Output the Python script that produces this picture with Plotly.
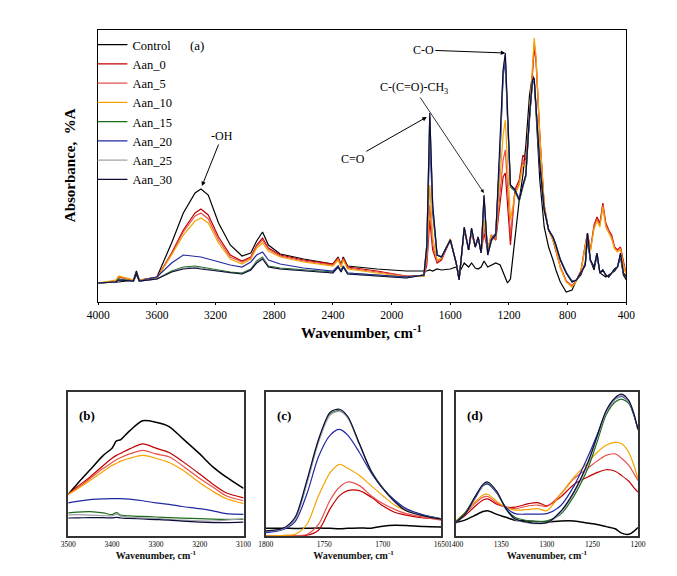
import plotly.graph_objects as go

SERIES = ["Control", "Aan_0", "Aan_5", "Aan_10", "Aan_15", "Aan_20", "Aan_25", "Aan_30"]
COLORS = ["#000000", "#c00000", "#e8504a", "#f5a300", "#1e6b1e", "#2028a0", "#a0a0a8", "#0c0c3a"]

# ---------------- main panel (a): wavenumber grid, three segments ----------------
WN_1 = [4000, 3880, 3860, 3760, 3740, 3720, 3600, 3500, 3420, 3340, 3300, 3250, 3180, 3100,
        3020, 2960, 2920, 2880, 2840, 2760, 2600, 2400, 2365, 2345, 2330, 2300, 2100, 1900]
WN_2 = [1780, 1760, 1740, 1720, 1690, 1660, 1600, 1560, 1540, 1505, 1475, 1455, 1430, 1410,
        1390, 1370, 1345, 1320, 1290, 1260, 1240, 1225, 1210, 1190, 1160, 1130, 1105, 1085,
        1060, 1040, 1028, 1015, 990, 960, 930, 900, 880]
WN_3 = [850, 810, 770, 740, 710, 680, 665, 645, 620, 600, 580, 560, 540, 520, 500, 480, 460,
        440, 420, 400]

A1 = {
    "Control": [2, 3, 3, 5, 14, 5, 8, 42, 72, 92, 96, 90, 62, 40, 29, 32, 44, 53, 40, 31, 26, 21, 28, 20, 28, 19, 16, 14],
    "Aan_0":   [2, 4, 8, 5, 10, 5, 7, 32, 55, 72, 76, 70, 48, 30, 24, 28, 40, 47, 37, 30, 25, 21, 27, 20, 27, 18, 14, 9],
    "Aan_5":   [2, 4, 8, 5, 10, 5, 7, 31, 53, 69, 72, 66, 45, 28, 23, 27, 39, 45, 36, 29, 24, 20, 26, 19, 26, 17, 13, 9],
    "Aan_10":  [2, 5, 9, 5, 10, 5, 7, 30, 50, 64, 67, 62, 42, 26, 21, 26, 37, 42, 34, 28, 23, 19, 25, 18, 25, 16, 12, 8],
    "Aan_15":  [2, 3, 6, 4, 11, 4, 6, 14, 18, 19, 18, 17, 15, 13, 12, 16, 24, 28, 19, 17, 15, 13, 19, 14, 19, 12, 10, 8],
    "Aan_20":  [2, 3, 5, 4, 11, 4, 8, 22, 30, 29, 28, 26, 23, 20, 18, 23, 30, 33, 25, 21, 17, 14, 19, 14, 19, 12, 10, 8],
    "Aan_25":  [2, 3, 5, 4, 12, 4, 6, 13, 17, 18, 17, 16, 14, 12, 11, 15, 23, 27, 18, 16, 14, 12, 18, 13, 18, 11, 9, 7],
    "Aan_30":  [2, 3, 5, 4, 12, 4, 6, 13, 16, 17, 16, 15, 14, 12, 11, 15, 22, 26, 18, 16, 14, 12, 18, 13, 18, 11, 9, 7],
}
A2 = {
    "Control": [14, 14, 15, 14, 16, 15, 16, 18, 12, 22, 18, 22, 17, 16, 18, 24, 18, 20, 22, 20, 12, 8, 2, 6, 45, 85, 110, 140, 190, 210, 205, 170, 105, 58, 38, 25, 15],
    "Aan_0":   [9, 20, 65, 35, 22, 25, 45, 22, 6, 55, 35, 52, 38, 48, 32, 52, 35, 50, 45, 80, 108, 112, 85, 40, 95, 105, 130, 125, 165, 215, 238, 222, 150, 80, 55, 45, 35],
    "Aan_5":   [9, 24, 80, 40, 24, 26, 46, 22, 6, 56, 35, 53, 38, 48, 32, 58, 35, 50, 45, 90, 125, 135, 100, 50, 92, 102, 125, 122, 168, 218, 242, 225, 150, 80, 55, 45, 35],
    "Aan_10":  [9, 30, 100, 48, 25, 27, 46, 22, 6, 57, 36, 54, 39, 48, 33, 65, 35, 50, 48, 105, 150, 165, 125, 65, 90, 100, 120, 118, 170, 222, 247, 228, 150, 80, 55, 45, 36],
    "Aan_15":  [10, 40, 168, 78, 30, 28, 45, 22, 5, 57, 35, 56, 38, 47, 32, 88, 30, 44, 50, 138, 212, 228, 168, 98, 94, 84, 98, 108, 168, 203, 205, 178, 120, 75, 55, 48, 40],
    "Aan_20":  [10, 35, 150, 72, 30, 28, 45, 22, 5, 57, 35, 56, 38, 47, 32, 85, 32, 46, 52, 135, 208, 225, 168, 100, 96, 86, 100, 110, 168, 202, 204, 178, 122, 76, 56, 48, 40],
    "Aan_25":  [10, 40, 170, 79, 30, 28, 45, 22, 5, 58, 35, 57, 38, 48, 32, 89, 30, 45, 50, 139, 214, 230, 169, 99, 95, 85, 99, 109, 169, 204, 206, 179, 120, 75, 55, 48, 40],
    "Aan_30":  [10, 40, 172, 80, 30, 28, 45, 22, 5, 58, 35, 57, 38, 48, 32, 90, 30, 45, 50, 140, 215, 232, 170, 100, 95, 85, 100, 110, 170, 205, 207, 180, 120, 75, 55, 48, 40],
}
A3 = {
    "Control": [3, -7, -5, 5, 10, 22, 45, 25, 15, 30, 12, 10, 8, 10, 12, 14, 18, 28, 10, 5],
    "Aan_0":   [18, 4, -1, 5, 14, 40, 52, 35, 60, 68, 62, 82, 62, 55, 50, 38, 35, 38, 22, 10],
    "Aan_5":   [18, 4, -1, 5, 14, 40, 51, 35, 58, 66, 60, 80, 60, 54, 48, 37, 34, 37, 21, 10],
    "Aan_10":  [17, 3, -2, 4, 13, 38, 50, 34, 56, 64, 58, 78, 58, 52, 46, 36, 33, 36, 20, 9],
    "Aan_15":  [25, 12, 3, 5, 12, 20, 50, 25, 18, 32, 12, 15, 10, 8, 12, 16, 18, 30, 12, 8],
    "Aan_20":  [26, 13, 4, 5, 12, 20, 48, 24, 18, 30, 12, 15, 10, 8, 12, 16, 18, 30, 12, 8],
    "Aan_25":  [25, 12, 3, 5, 12, 20, 51, 25, 18, 32, 12, 15, 10, 8, 12, 16, 18, 31, 12, 8],
    "Aan_30":  [25, 12, 3, 5, 12, 20, 52, 25, 18, 32, 12, 15, 10, 8, 12, 16, 18, 32, 12, 8],
}
MAIN_TICKS = [4000, 3600, 3200, 2800, 2400, 2000, 1600, 1200, 800, 400]

# ---------------- panel (b): OH region ----------------
WN_B = [3500, 3480, 3450, 3420, 3400, 3390, 3380, 3360, 3330, 3300, 3270, 3240, 3200, 3170, 3140, 3100]
B = {
    "Control": [29, 36, 46, 56, 61, 66, 67, 73, 80, 79, 76, 68, 57, 48, 41, 33],
    "Aan_0":   [29, 34, 41, 49, 54, 56, 57.5, 60.5, 64, 61, 58, 52, 43, 36, 30, 26.5],
    "Aan_5":   [29, 33, 40, 47, 51, 53, 54.5, 57, 59.5, 57, 55, 49, 40, 34, 28, 24.5],
    "Aan_10":  [29, 32.5, 38.5, 45, 49, 50.5, 52, 54, 56, 54, 51, 46, 37, 31, 26, 22.5],
    "Aan_15":  [16, 16.6, 16.9, 16, 14.8, 16.2, 14.5, 14, 13.6, 13.2, 12.8, 12.4, 12, 11.7, 11.5, 11.5],
    "Aan_20":  [23, 24, 25.3, 25.8, 26, 26, 26, 25.6, 24.5, 23, 22, 20.5, 19, 17.5, 15.5, 15],
    "Aan_25":  [14.5, 14.8, 14.5, 14.2, 14, 15.2, 13.8, 13.2, 12.6, 12.2, 11.6, 11, 10.6, 10.4, 11, 12],
    "Aan_30":  [12.5, 12.6, 12.7, 12.7, 12.6, 13, 12.5, 12.2, 11.8, 11.4, 11, 10.3, 9.6, 9.3, 9.3, 9.6],
}
B_TICKS = [3500, 3400, 3300, 3200, 3100]

# ---------------- panel (c): C=O region ----------------
WN_C = [1800, 1785, 1775, 1765, 1755, 1745, 1737, 1730, 1720, 1710, 1700, 1690, 1680, 1665, 1650]
C = {
    "Control": [5.4, 5.4, 5.2, 5.4, 5.6, 5.3, 5, 5.3, 5.6, 5.4, 6.8, 7.5, 7.3, 6.6, 6.3],
    "Aan_0":   [0, 0, 0.2, 0.5, 4, 19, 28, 31.5, 31.5, 27, 21, 16.5, 14.5, 12.5, 11.7],
    "Aan_5":   [0, 0, 0.3, 1, 8, 25, 34, 37.5, 35, 28, 22.5, 18.5, 15.5, 13, 11],
    "Aan_10":  [0, 0.5, 1.2, 8, 28, 44, 49.8, 47, 42, 35, 28, 21.5, 17.5, 14, 11.7],
    "Aan_15":  [3, 5, 12, 37, 66, 85, 87, 82.5, 64, 45.5, 33.5, 24.5, 18.5, 14.5, 12],
    "Aan_20":  [2.3, 4.5, 10, 29, 55, 70, 74, 70, 58, 44, 33, 25, 19, 14.5, 12],
    "Aan_25":  [3, 5, 12, 36, 65, 84, 86.5, 82, 63.5, 45, 33, 24, 18, 14, 12],
    "Aan_30":  [3.5, 5.5, 13, 38.5, 67, 86, 88, 83, 64, 45, 33, 24, 17.5, 14, 11.7],
}
C_TICKS = [1800, 1750, 1700, 1650]

# ---------------- panel (d): 1400-1200 region ----------------
WN_D = [1400, 1390, 1380, 1370, 1365, 1355, 1345, 1335, 1320, 1310, 1300, 1285, 1270, 1255,
        1245, 1235, 1225, 1218, 1210, 1205, 1200]
D = {
    "Control": [9.4, 11, 14, 17, 17.6, 15, 13, 11, 10.5, 10, 9.8, 10.5, 10.5, 9, 8, 6.5, 5, 2, 1.2, 3, 5.9],
    "Aan_0":   [9.5, 14, 20, 25, 25.8, 22, 20, 20, 22.5, 23.2, 21, 27, 36, 41, 44, 46, 45, 42, 38, 34, 30.4],
    "Aan_5":   [10, 15, 22, 27, 27.4, 23, 20, 19, 21, 21.5, 20.5, 29, 40, 47, 52, 56, 57, 54, 49, 44, 38.6],
    "Aan_10":  [10.5, 16, 23, 28.5, 29, 24, 20, 18, 18.5, 19, 17.6, 29, 41, 51, 58, 63, 65, 64, 58, 50, 40],
    "Aan_15":  [10, 16, 26, 35, 36, 30, 19, 13, 10.5, 10, 10.5, 15, 28, 47, 65, 84, 93, 95, 92, 85, 74],
    "Aan_20":  [9, 15, 25, 35, 36.5, 30, 20, 15.5, 15.2, 15.2, 15.5, 21, 35, 55, 70, 86, 95, 97, 93, 85, 74],
    "Aan_25":  [9, 15, 26, 35.5, 37, 30.5, 18.5, 11.5, 9, 8.5, 9, 16, 30, 50, 68, 86, 95, 97.5, 93, 86, 74],
    "Aan_30":  [9.4, 15, 26, 36, 37.5, 31, 19, 12, 9.4, 8.7, 9.2, 17, 31, 51, 69, 87, 96, 98.5, 94, 86, 74],
}
D_TICKS = [1400, 1350, 1300, 1250, 1200]

SERIF = "Liberation Serif"

fig = go.Figure()

wn_main = WN_1 + WN_2 + WN_3
for name, color in zip(SERIES, COLORS):
    ys = A1[name] + A2[name] + A3[name]
    fig.add_trace(go.Scatter(x=wn_main, y=ys, mode="lines", name=name,
                             line=dict(color=color, width=1.2), xaxis="x", yaxis="y"))

for ax, wn, data in (("2", WN_B, B), ("3", WN_C, C), ("4", WN_D, D)):
    for name, color in zip(SERIES, COLORS):
        fig.add_trace(go.Scatter(x=wn, y=data[name], mode="lines", name=name, showlegend=False,
                                 line=dict(color=color, width=1.5 if name == "Control" else 1.2,
                                           shape="spline", smoothing=0.8),
                                 xaxis="x" + ax, yaxis="y" + ax))

W, H = 677, 576
def px(a, b):
    return [a / W, b / W]
def py(top, bottom):
    return [1 - bottom / H, 1 - top / H]

sub_x_common = dict(showline=True, mirror=True, linecolor="#333333", linewidth=1.6, ticks="",
                    showgrid=False, zeroline=False,
                    tickfont=dict(family=SERIF, size=7.5, color="#000000"),
                    title=dict(text="Wavenumber, cm<sup>-1</sup>", standoff=3,
                               font=dict(family=SERIF, size=10, color="#111111", weight="bold")))
sub_y_common = dict(showline=True, mirror=True, linecolor="#333333", linewidth=1.6, ticks="",
                    showticklabels=False, showgrid=False, zeroline=False, range=[0, 100])

fig.update_layout(
    width=W, height=H, margin=dict(l=0, r=0, t=0, b=0),
    paper_bgcolor="white", plot_bgcolor="white",
    showlegend=True,
    legend=dict(x=83 / W, y=1 - 30 / H, xanchor="left", yanchor="top", bgcolor="rgba(0,0,0,0)",
                font=dict(family=SERIF, size=12.5, color="black"), itemwidth=30,
                tracegroupgap=0),
    xaxis=dict(domain=px(89, 634), range=[4000, 400], tickvals=MAIN_TICKS,
               ticktext=[str(t) for t in MAIN_TICKS], showline=True, mirror=True,
               linecolor="black", linewidth=1, ticks="outside", ticklen=2, tickcolor="black",
               showgrid=False, zeroline=False, anchor="y",
               tickfont=dict(family=SERIF, size=11.5, color="black")),
    yaxis=dict(domain=py(30, 302), range=[-17, 255], showline=True, mirror=True,
               linecolor="black", linewidth=1, ticks="", showticklabels=False,
               showgrid=False, zeroline=False, anchor="x"),
    xaxis2=dict(domain=px(58, 239), range=[3500, 3100], tickvals=B_TICKS, anchor="y2", **sub_x_common),
    yaxis2=dict(domain=py(392, 536), anchor="x2", **sub_y_common),
    xaxis3=dict(domain=px(262, 443), range=[1800, 1650], tickvals=C_TICKS, anchor="y3", **sub_x_common),
    yaxis3=dict(domain=py(392, 536), anchor="x3", **sub_y_common),
    xaxis4=dict(domain=px(458, 646), range=[1400, 1200], tickvals=D_TICKS, anchor="y4", **sub_x_common),
    yaxis4=dict(domain=py(392, 536), anchor="x4", **sub_y_common),
)

ann_font = dict(family=SERIF, size=12, color="black")
annotations = [
    dict(text="Absorbance,\u00a0\u00a0%A", xref="paper", yref="paper", x=60 / W, y=1 - 165 / H,
         xanchor="center", yanchor="middle",
         textangle=-90, showarrow=False, font=dict(family=SERIF, size=15, color="black", weight="bold")),
    dict(text="Wavenumber, cm<sup>-1</sup>", xref="paper", yref="paper", x=361 / W, y=1 - 332 / H,
         xanchor="center", yanchor="middle", showarrow=False,
         font=dict(family=SERIF, size=15, color="black", weight="bold")),
    dict(text="(a)", xref="x", yref="y", x=3330, y=240, showarrow=False,
         font=dict(family=SERIF, size=13, color="black")),
    dict(text="-OH", xref="x", yref="y", x=3293, y=99, ax=20, ay=-50, showarrow=True,
         arrowhead=2, arrowsize=0.9, arrowwidth=1, arrowcolor="black", font=ann_font),
    dict(text="C=O", xref="x", yref="y", x=1760, y=168, ax=-74, ay=42, showarrow=True,
         arrowhead=2, arrowsize=0.9, arrowwidth=1, arrowcolor="black", font=ann_font),
    dict(text="C-(C=O)-CH<sub>3</sub>", xref="x", yref="y", x=1371, y=92, ax=-70, ay=-105,
         showarrow=True, arrowhead=2, arrowsize=0.9, arrowwidth=0.8, arrowcolor="black", font=ann_font),
    dict(text="C-O", xref="x", yref="y", x=1225, y=232, ax=-82, ay=-3, showarrow=True,
         arrowhead=2, arrowsize=0.9, arrowwidth=1, arrowcolor="black", font=ann_font),
    dict(text="(b)", xref="x2 domain", yref="y2 domain", x=0.05, y=0.9, xanchor="left",
         showarrow=False, font=dict(family=SERIF, size=13, color="black", weight="bold")),
    dict(text="(c)", xref="x3 domain", yref="y3 domain", x=0.05, y=0.9, xanchor="left",
         showarrow=False, font=dict(family=SERIF, size=13, color="black", weight="bold")),
    dict(text="(d)", xref="x4 domain", yref="y4 domain", x=0.05, y=0.9, xanchor="left",
         showarrow=False, font=dict(family=SERIF, size=13, color="black", weight="bold")),
]
fig.update_layout(annotations=annotations)

fig.write_html("out.html")
